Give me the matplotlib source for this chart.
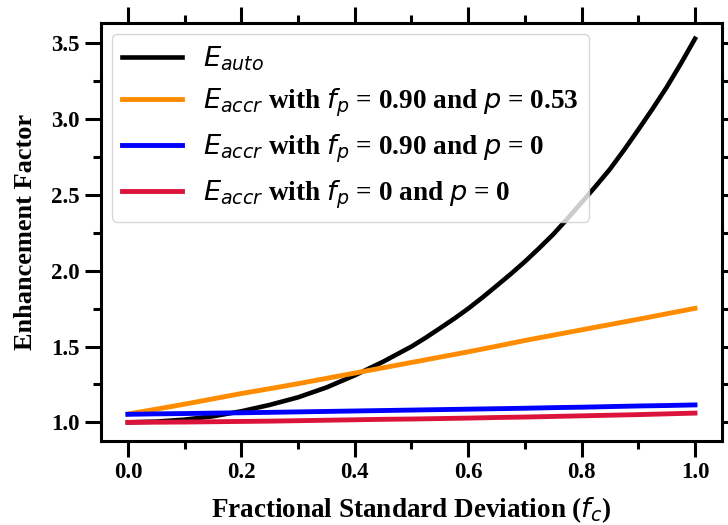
import numpy as np
import matplotlib
matplotlib.use("Agg")
import matplotlib.pyplot as plt
from matplotlib.ticker import MultipleLocator

# Fractional standard deviation sampled along the x axis
fc = [0.00, 0.05, 0.10, 0.15, 0.20, 0.25, 0.30, 0.35, 0.40, 0.45, 0.50,
      0.55, 0.60, 0.65, 0.70, 0.75, 0.80, 0.85, 0.90, 0.95, 1.00]

# the autoconversion curve bends fast, so it gets a finer grid
fc_auto = [0.00, 0.05, 0.10, 0.15, 0.20, 0.25, 0.30, 0.35, 0.40, 0.45, 0.50,
           0.525, 0.55, 0.575, 0.60, 0.625, 0.65, 0.675, 0.70, 0.725, 0.75,
           0.775, 0.80, 0.825, 0.85, 0.875, 0.90, 0.925, 0.95, 0.975, 1.00]
e_auto = [1.000, 1.005, 1.018, 1.040, 1.073, 1.115, 1.165, 1.230, 1.310, 1.400, 1.500,
          1.558, 1.620, 1.683, 1.750, 1.823, 1.900, 1.978, 2.060, 2.148, 2.240,
          2.343, 2.450, 2.558, 2.670, 2.797, 2.930, 3.067, 3.210, 3.366, 3.530]

# accretion enhancement for the three parameter choices
e_accr_fp90_p53 = [1.055, 1.087, 1.120, 1.155, 1.190, 1.222, 1.255, 1.290, 1.325, 1.360, 1.395,
                   1.430, 1.465, 1.502, 1.540, 1.575, 1.610, 1.645, 1.680, 1.716, 1.752]
e_accr_fp90_p0 = [1.053, 1.056, 1.058, 1.061, 1.063, 1.066, 1.069, 1.072, 1.075, 1.078, 1.081,
                  1.084, 1.087, 1.090, 1.093, 1.097, 1.100, 1.104, 1.108, 1.111, 1.115]
e_accr_fp0_p0 = [1.000, 1.001, 1.002, 1.004, 1.006, 1.008, 1.011, 1.014, 1.017, 1.020, 1.022,
                 1.025, 1.028, 1.032, 1.035, 1.039, 1.043, 1.047, 1.051, 1.056, 1.061]

labels = [r'$E_{auto}$',
          r'$E_{accr}$ with $f_p$ = 0.90 and $p$ = 0.53',
          r'$E_{accr}$ with $f_p$ = 0.90 and $p$ = 0',
          r'$E_{accr}$ with $f_p$ = 0 and $p$ = 0']

# bold serif text, plain italic sans for the math symbols
plt.rcParams['font.family'] = ['Liberation Serif', 'DejaVu Serif']
plt.rcParams['font.weight'] = 'bold'
plt.rcParams['mathtext.fontset'] = 'custom'
plt.rcParams['mathtext.rm'] = 'DejaVu Sans:weight=normal'
plt.rcParams['mathtext.it'] = 'DejaVu Sans:style=italic:weight=normal'
plt.rcParams['mathtext.bf'] = 'DejaVu Sans:weight=bold'

fig = plt.figure(figsize=(7.28, 5.25), dpi=100)
ax = fig.add_axes([0.1383, 0.16, 0.853, 0.7968])

ax.plot(fc_auto, e_auto, color='black', lw=3.3, label=labels[0])
ax.plot(fc, e_accr_fp90_p53, color='darkorange', lw=3.5, label=labels[1])
ax.plot(fc, e_accr_fp90_p0, color='blue', lw=3.5, label=labels[2])
ax.plot(fc, e_accr_fp0_p0, color='crimson', lw=3.5, label=labels[3])

ax.set_xlim(-0.048, 1.047)
ax.set_ylim(0.877, 3.636)

ax.xaxis.set_major_locator(MultipleLocator(0.2))
ax.xaxis.set_minor_locator(MultipleLocator(0.1))
ax.yaxis.set_major_locator(MultipleLocator(0.5))
ax.yaxis.set_minor_locator(MultipleLocator(0.25))

ax.tick_params(which='both', direction='out', top=True, right=True, width=2.2)
ax.tick_params(which='major', length=11.5, labelsize=16.5)
ax.tick_params(which='minor', length=6)
for spine in ax.spines.values():
    spine.set_linewidth(2.2)

ax.set_xlabel(r'Fractional Standard Deviation ($f_c$)', fontsize=19.5, fontweight='bold', labelpad=9)
ax.set_ylabel('Enhancement Factor', fontsize=19, fontweight='bold', labelpad=10)

ax.legend(loc='upper left', fontsize=19.6, handlelength=2.2, handletextpad=0.75,
          borderaxespad=0.4)

fig.savefig('out.png', dpi=100)
